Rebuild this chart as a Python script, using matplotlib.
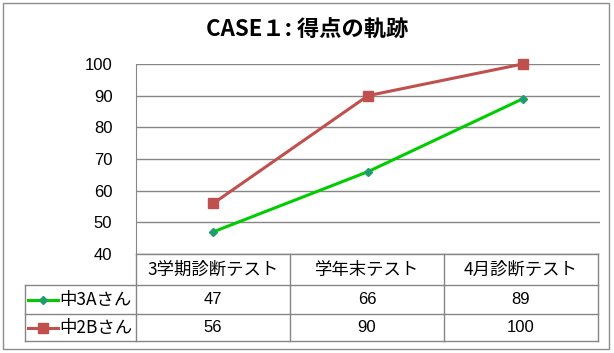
import matplotlib
matplotlib.use("Agg")
import matplotlib.pyplot as plt
from matplotlib.lines import Line2D

plt.rcParams['font.family'] = ['Noto Sans CJK JP', 'DejaVu Sans']

categories = ["3学期診断テスト", "学年末テスト", "4月診断テスト"]
series_names = ["中3Aさん", "中2Bさん"]
series_a = [47, 66, 89]
series_b = [56, 90, 100]
yticks = [40, 50, 60, 70, 80, 90, 100]
title = "CASE１: 得点の軌跡"

W, H = 614, 353
fig = plt.figure(figsize=(W / 100, H / 100), dpi=100)

def fx(px):
    return px / W

def fy(py):
    return 1 - py / H

left, right, top, bottom = 136, 600, 64, 254
ax = fig.add_axes([fx(left), fy(bottom), fx(right) - fx(left), fy(top) - fy(bottom)])

grid_c = "#868686"
colors = ["#00CC00", "#C0504D"]
mcolors = ["#1E9E6A", "#C0504D"]
markers = ["D", "s"]
msizes = [4.5, 6.5]
x = list(range(len(categories)))
for vals, c, mc, m, ms in zip([series_a, series_b], colors, mcolors, markers, msizes):
    ax.plot(x, vals, color=c, lw=2.2, marker=m, ms=ms, mfc=mc, mec=mc, zorder=3, clip_on=False)

ax.set_xlim(-0.5, len(categories) - 0.5)
ax.set_ylim(40, 100)
ax.set_yticks(yticks)
ax.set_yticklabels([str(t) for t in yticks], fontsize=12, fontfamily=['Liberation Sans', 'DejaVu Sans'])
ax.tick_params(axis='y', length=0, pad=17)
ax.set_xticks([])
ax.yaxis.grid(True, color=grid_c, lw=1)
for s in ['top', 'right', 'bottom']:
    ax.spines[s].set_visible(False)
ax.spines['left'].set_color(grid_c)

fig.text(0.5, fy(30), title, ha='center', va='center', fontsize=16, fontweight='bold')

# outer border
fig.add_artist(plt.Rectangle((fx(3), fy(349)), fx(609) - fx(3), fy(3) - fy(349),
                             transform=fig.transFigure, fill=False, ec="#8c8c8c", lw=1))

# data table
col_x = [136, 290, 444, 598]
row_y = [254, 285, 314, 341]
tbl_left = 25
def hline(y, x0, x1):
    fig.add_artist(Line2D([fx(x0), fx(x1)], [fy(y), fy(y)], color=grid_c, lw=1, transform=fig.transFigure))
def vline(xp, y0, y1):
    fig.add_artist(Line2D([fx(xp), fx(xp)], [fy(y0), fy(y1)], color=grid_c, lw=1, transform=fig.transFigure))

hline(row_y[0], col_x[0], col_x[-1])
for y in row_y[1:]:
    hline(y, tbl_left, col_x[-1])
for xp in col_x:
    vline(xp, row_y[0], row_y[-1])
vline(tbl_left, row_y[1], row_y[-1])

for i, cat in enumerate(categories):
    cx = (col_x[i] + col_x[i + 1]) / 2
    fig.text(fx(cx), fy((row_y[0] + row_y[1]) / 2), cat, ha='center', va='center', fontsize=12.5)

for r, (name, vals) in enumerate(zip(series_names, [series_a, series_b])):
    cy = (row_y[r + 1] + row_y[r + 2]) / 2
    fig.add_artist(Line2D([fx(28), fx(58)], [fy(cy), fy(cy)], color=colors[r], lw=2.2,
                          transform=fig.transFigure))
    fig.add_artist(Line2D([fx(43)], [fy(cy)], marker=markers[r], ms=msizes[r], color=mcolors[r],
                          transform=fig.transFigure))
    fig.text(fx(59), fy(cy), name, ha='left', va='center', fontsize=12.5)
    for i, v in enumerate(vals):
        cx = (col_x[i] + col_x[i + 1]) / 2
        fig.text(fx(cx), fy(cy), str(v), ha='center', va='center', fontsize=12,
                 fontfamily=['Liberation Sans', 'DejaVu Sans'])

fig.savefig("out.png", dpi=100)
